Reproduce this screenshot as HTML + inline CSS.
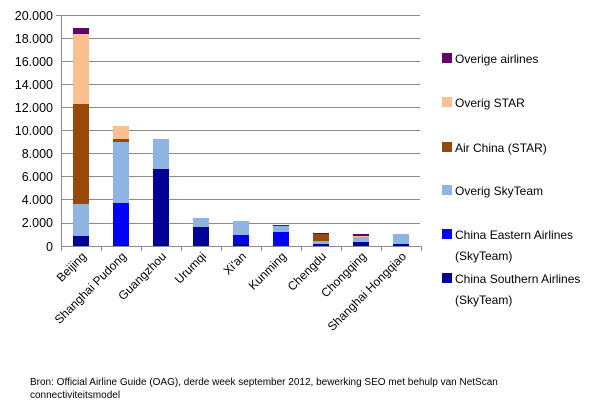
<!DOCTYPE html>
<html><head><meta charset="utf-8"><style>
body{margin:0;background:#fff;}
svg text{font-family:"Liberation Sans",sans-serif;fill:#000;}
</style></head><body>
<svg width="600" height="405" xmlns="http://www.w3.org/2000/svg">
<g stroke="#8c8c8c" stroke-width="1">
<line x1="61" y1="15.5" x2="420" y2="15.5"/><line x1="61" y1="38.5" x2="420" y2="38.5"/>
<line x1="61" y1="61.5" x2="420" y2="61.5"/><line x1="61" y1="84.5" x2="420" y2="84.5"/>
<line x1="61" y1="107.5" x2="420" y2="107.5"/><line x1="61" y1="130.5" x2="420" y2="130.5"/>
<line x1="61" y1="153.5" x2="420" y2="153.5"/><line x1="61" y1="176.5" x2="420" y2="176.5"/>
<line x1="61" y1="199.5" x2="420" y2="199.5"/><line x1="61" y1="223.5" x2="420" y2="223.5"/>
<line x1="61.5" y1="15" x2="61.5" y2="246"/>
<line x1="56" y1="15.5" x2="61" y2="15.5"/>
</g>
<g font-size="12.5" text-anchor="end">
<text x="53" y="20">20.000</text><text x="53" y="43">18.000</text><text x="53" y="66">16.000</text>
<text x="53" y="89">14.000</text><text x="53" y="112">12.000</text><text x="53" y="135">10.000</text>
<text x="53" y="158">8.000</text><text x="53" y="181">6.000</text><text x="53" y="204">4.000</text>
<text x="53" y="227">2.000</text><text x="53" y="251">0</text>
</g>
<g>
<rect x="73" y="236" width="16" height="10" fill="#000099"/>
<rect x="73" y="204" width="16" height="32" fill="#8DB4E2"/>
<rect x="73" y="104" width="16" height="100" fill="#984807"/>
<rect x="73" y="34" width="16" height="70" fill="#FAC090"/>
<rect x="73" y="28" width="16" height="6" fill="#660066"/>
<rect x="113" y="245" width="16" height="1" fill="#000099"/>
<rect x="113" y="203" width="16" height="42" fill="#0000FF"/>
<rect x="113" y="142" width="16" height="61" fill="#8DB4E2"/>
<rect x="113" y="139" width="16" height="3" fill="#984807"/>
<rect x="113" y="126" width="16" height="13" fill="#FAC090"/>
<rect x="153" y="169" width="16" height="77" fill="#000099"/>
<rect x="153" y="139" width="16" height="30" fill="#8DB4E2"/>
<rect x="193" y="227" width="16" height="19" fill="#000099"/>
<rect x="193" y="218" width="16" height="9" fill="#8DB4E2"/>
<rect x="233" y="244" width="16" height="2" fill="#000099"/>
<rect x="233" y="235" width="16" height="9" fill="#0000FF"/>
<rect x="233" y="221" width="16" height="14" fill="#8DB4E2"/>
<rect x="273" y="232" width="16" height="14" fill="#0000FF"/>
<rect x="273" y="226" width="16" height="6" fill="#8DB4E2"/>
<rect x="273" y="225" width="16" height="1" fill="#660066"/>
<rect x="313" y="244" width="16" height="2" fill="#000099"/>
<rect x="313" y="241" width="16" height="3" fill="#8DB4E2"/>
<rect x="313" y="234" width="16" height="7" fill="#984807"/>
<rect x="313" y="233" width="16" height="1" fill="#660066"/>
<rect x="353" y="242" width="16" height="4" fill="#000099"/>
<rect x="353" y="237" width="16" height="5" fill="#8DB4E2"/>
<rect x="353" y="236" width="16" height="1" fill="#FAC090"/>
<rect x="353" y="234" width="16" height="2" fill="#660066"/>
<rect x="393" y="244" width="16" height="2" fill="#000099"/>
<rect x="393" y="234" width="16" height="10" fill="#8DB4E2"/>
</g>
<g stroke="#8c8c8c" stroke-width="1">
<line x1="61" y1="246.5" x2="421" y2="246.5"/>
<line x1="61.5" y1="246" x2="61.5" y2="251"/><line x1="101.5" y1="246" x2="101.5" y2="251"/>
<line x1="141.5" y1="246" x2="141.5" y2="251"/><line x1="181.5" y1="246" x2="181.5" y2="251"/>
<line x1="221.5" y1="246" x2="221.5" y2="251"/><line x1="261.5" y1="246" x2="261.5" y2="251"/>
<line x1="301.5" y1="246" x2="301.5" y2="251"/><line x1="341.5" y1="246" x2="341.5" y2="251"/>
<line x1="381.5" y1="246" x2="381.5" y2="251"/><line x1="421.5" y1="246" x2="421.5" y2="251"/>
</g>
<g font-size="12" text-anchor="end">
<text transform="translate(87,257) rotate(-45)">Beijing</text>
<text transform="translate(127,257) rotate(-45)">Shanghai Pudong</text>
<text transform="translate(167,257) rotate(-45)">Guangzhou</text>
<text transform="translate(207,257) rotate(-45)">Urumqi</text>
<text transform="translate(247,257) rotate(-45)">Xi'an</text>
<text transform="translate(287,257) rotate(-45)">Kunming</text>
<text transform="translate(327,257) rotate(-45)">Chengdu</text>
<text transform="translate(367,257) rotate(-45)">Chongqing</text>
<text transform="translate(407,257) rotate(-45)">Shanghai Hongqiao</text>
</g>
<g font-size="12">
<rect x="442" y="53" width="10" height="10" fill="#660066"/><text x="455" y="63">Overige airlines</text>
<rect x="442" y="97" width="10" height="10" fill="#FAC090"/><text x="455" y="107">Overig STAR</text>
<rect x="442" y="142" width="10" height="10" fill="#984807"/><text x="455" y="152">Air China (STAR)</text>
<rect x="442" y="185" width="10" height="10" fill="#8DB4E2"/><text x="455" y="195">Overig SkyTeam</text>
<rect x="442" y="229" width="10" height="10" fill="#0000FF"/><text x="455" y="239">China Eastern Airlines</text><text x="455" y="260">(SkyTeam)</text>
<rect x="442" y="273" width="10" height="10" fill="#000099"/><text x="455" y="283">China Southern Airlines</text><text x="455" y="304">(SkyTeam)</text>
</g>
<g font-size="10">
<text x="30" y="385">Bron: Official Airline Guide (OAG), derde week september 2012, bewerking SEO met behulp van NetScan</text>
<text x="30" y="398">connectiviteitsmodel</text>
</g>
</svg>
</body></html>
